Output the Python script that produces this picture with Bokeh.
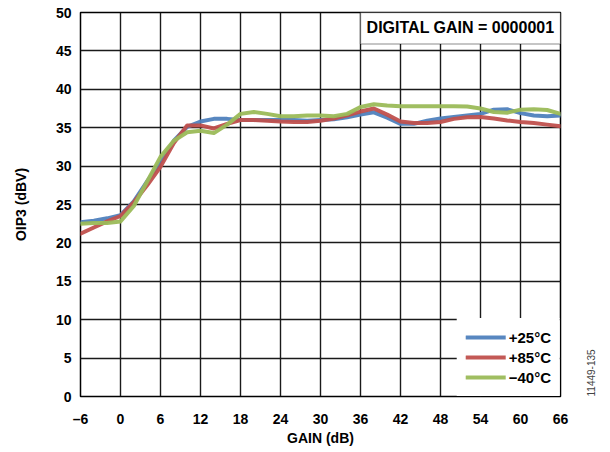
from bokeh.plotting import figure
from bokeh.models import (Range1d, FixedTicker, BoxAnnotation, Label, Legend, LegendItem,
                          ColumnDataSource, LinearAxis)
from bokeh.embed import file_html
from bokeh.resources import INLINE
import math

# ---- data ----
gain_db = [-6, -4, -2, 0, 2, 4, 6, 8, 10, 12, 14, 16, 18, 20, 22, 24, 26, 28, 30,
           32, 34, 36, 38, 40, 42, 44, 46, 48, 50, 52, 54, 56, 58, 60, 62, 64, 66]
oip3_p25 = [22.7, 22.9, 23.2, 23.6, 25.4, 28.0, 30.5, 33.3, 35.1, 35.8, 36.15, 36.15, 36.0,
            36.0, 36.0, 36.0, 36.0, 35.9, 36.0, 36.1, 36.35, 36.7, 37.0, 36.3, 35.5, 35.5,
            35.9, 36.2, 36.4, 36.6, 36.8, 37.35, 37.4, 36.9, 36.6, 36.5, 36.6]
oip3_p85 = [21.2, 22.0, 22.8, 23.5, 25.3, 27.5, 29.9, 33.0, 35.3, 35.3, 34.9, 35.5, 36.0,
            36.0, 35.9, 35.8, 35.75, 35.75, 35.9, 36.2, 36.6, 37.1, 37.5, 36.7, 35.8, 35.6,
            35.6, 35.75, 36.15, 36.35, 36.4, 36.2, 35.95, 35.75, 35.6, 35.4, 35.2]
oip3_m40 = [22.5, 22.6, 22.6, 22.8, 24.8, 28.0, 31.2, 33.3, 34.4, 34.6, 34.3, 35.4, 36.8,
            37.05, 36.8, 36.5, 36.5, 36.6, 36.6, 36.5, 36.8, 37.7, 38.05, 37.9, 37.8, 37.8,
            37.8, 37.8, 37.8, 37.75, 37.5, 37.05, 36.95, 37.35, 37.4, 37.3, 36.8]
series_labels = ["+25°C", "+85°C", "\u221240°C"]
series_colors = ["#4F81BD", "#C0504D", "#9BBB59"]
x_ticks = list(range(-6, 67, 6))
y_ticks = list(range(0, 51, 5))
x_tick_labels = {t: (("\u2013" + str(-t)) if t < 0 else str(t)) for t in x_ticks}

FONT = "Liberation Sans"

p = figure(width=608, height=448, output_backend="svg", toolbar_location=None,
           x_range=Range1d(-6, 66), y_range=Range1d(0, 50),
           min_border_left=80, min_border_right=48, min_border_top=12, min_border_bottom=51)

p.outline_line_color = "black"
p.outline_line_width = 1.5
p.background_fill_color = "white"
p.border_fill_color = "white"

for ax in (p.xaxis[0], p.yaxis[0]):
    ax.axis_line_color = None
    ax.major_tick_line_color = None
    ax.minor_tick_line_color = None
    ax.major_tick_out = 0
    ax.major_tick_in = 0
    ax.major_label_text_font = FONT
    ax.major_label_text_font_style = "bold"
    ax.major_label_text_font_size = "14px"
    ax.major_label_text_color = "black"
    ax.axis_label_text_font = FONT
    ax.axis_label_text_font_style = "bold"
    ax.axis_label_text_font_size = "14px"
    ax.axis_label_text_color = "black"

p.xaxis.ticker = FixedTicker(ticks=x_ticks)
p.yaxis.ticker = FixedTicker(ticks=y_ticks)
p.xaxis.major_label_overrides = x_tick_labels
p.xaxis.axis_label = "GAIN (dB)"
p.yaxis.axis_label = "OIP3 (dBV)"
p.xaxis.major_label_standoff = 14
p.yaxis.major_label_standoff = 9
p.xaxis.axis_label_standoff = 0
p.yaxis.axis_label_standoff = 24

p.xgrid.ticker = FixedTicker(ticks=x_ticks)
p.ygrid.ticker = FixedTicker(ticks=y_ticks)
for g in (p.xgrid[0], p.ygrid[0]):
    g.grid_line_color = "#1a1a1a"
    g.grid_line_width = 1.4

src = ColumnDataSource(dict(x=gain_db, a=oip3_p25, b=oip3_p85, c=oip3_m40))
renderers = []
for col, color in zip(["a", "b", "c"], series_colors):
    r = p.line("x", col, source=src, line_color=color, line_width=4, line_alpha=0.95,
               line_join="round", line_cap="round")
    renderers.append(r)

legend = Legend(items=[LegendItem(label=l, renderers=[r]) for l, r in zip(series_labels, renderers)],
                location="bottom_right", margin=0, padding=9, spacing=0,
                glyph_width=40, glyph_height=20, label_height=20, label_standoff=3,
                label_text_font=FONT, label_text_font_style="bold", label_text_font_size="15px",
                label_text_color="black", background_fill_color="white", background_fill_alpha=1,
                border_line_alpha=0)
p.add_layout(legend)

box = BoxAnnotation(left=36, right=66, bottom=45.9, top=50, fill_color="white", fill_alpha=1,
                    line_color="black", line_width=1.5, level="overlay")
p.add_layout(box)
p.add_layout(Label(x=51, y=48.0, text="DIGITAL GAIN = 0000001", text_align="center",
                   text_baseline="middle", text_font=FONT, text_font_style="bold",
                   text_font_size="16px", text_color="black", level="overlay"))

# figure id on the right side, reading bottom-to-top, near the bottom
fig_id = "11449-135"
rax = LinearAxis(ticker=FixedTicker(ticks=[]), axis_line_color=None,
                 major_tick_line_color=None, minor_tick_line_color=None,
                 major_label_text_font_size="0px", axis_label=fig_id,
                 axis_label_text_font=FONT, axis_label_text_font_size="10px",
                 axis_label_text_font_style="normal", axis_label_text_color="#444444",
                 axis_label_standoff=30)
try:
    rax.axis_label_orientation = math.pi / 2
except Exception:
    pass
try:
    rax.axis_label_align = "start"
except Exception:
    pass
p.add_layout(rax, "right")

open("out.html", "w").write(file_html(p, INLINE))
